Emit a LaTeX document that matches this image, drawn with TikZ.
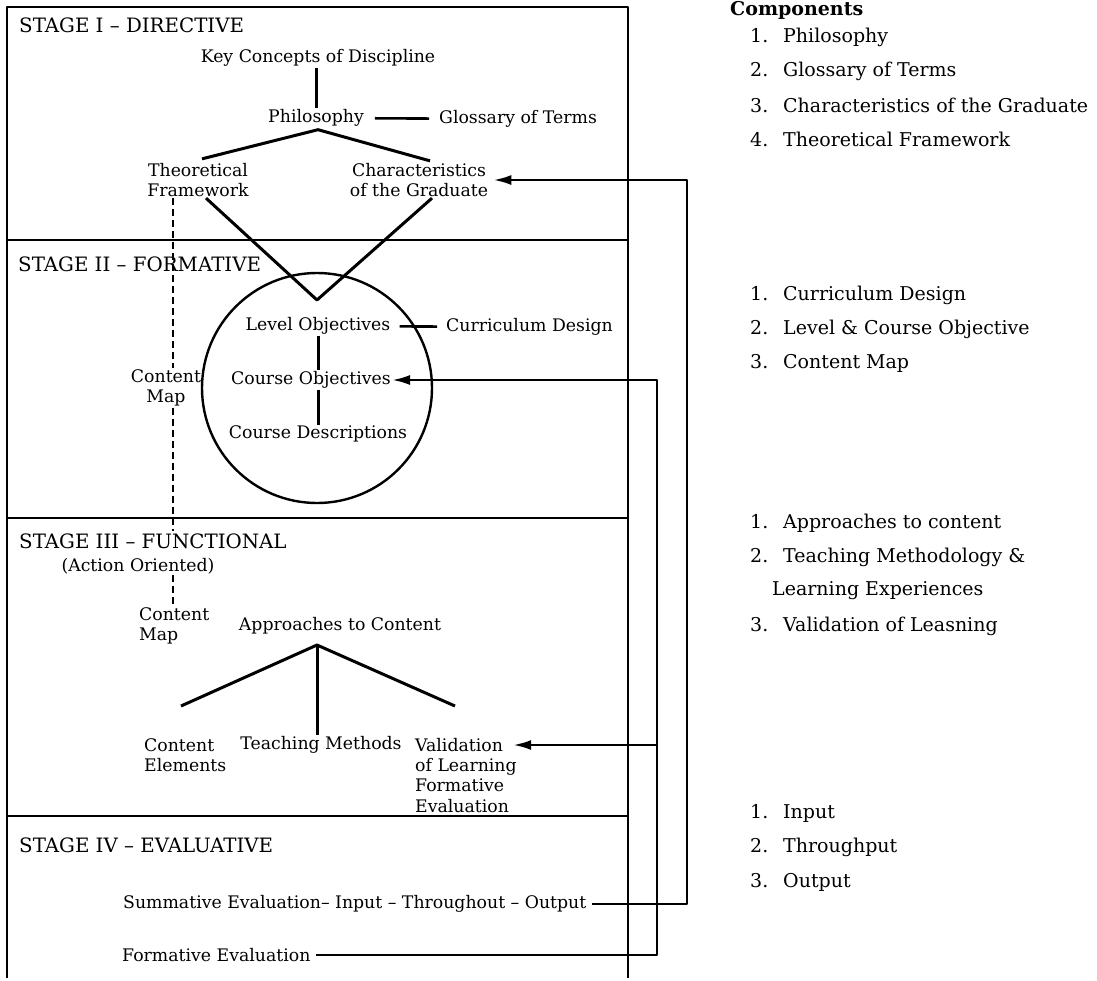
\documentclass[tikz,border=0pt]{standalone}
\usepackage{fontspec}
\setmainfont{DejaVu Serif}
\usetikzlibrary{arrows.meta,positioning,calc}

\begin{document}
\begin{tikzpicture}[x=1pt,y=-1pt,>={Latex[length=18pt,width=10pt]},line join=bevel,
  lbl/.style={font=\fontsize{17.3}{20.5}\selectfont,inner sep=1pt,align=center},
  lbll/.style={lbl,align=left,anchor=west},
  stagehd/.style={font=\fontsize{19.8}{22}\selectfont,anchor=west,inner sep=0pt},
  comp/.style={font=\fontsize{19}{22}\selectfont,anchor=west,inner sep=0pt},
  frameline/.style={line width=2.4pt},
  branch/.style={line width=3pt},
  link/.style={line width=2.6pt},
  cmap/.style={line width=2pt,dash pattern=on 7pt off 4pt}]
\useasboundingbox (0,0) rectangle (1097,980);

% stage frame
\draw[frameline] (7,978) -- (7,7) -- (628,7) -- (628,978);
\foreach \y in {240,518,816} \draw[frameline] (7,\y) -- (628,\y);
\coordinate (rmid) at (657,0);
\coordinate (rout) at (687,0);

% stage I
\node[stagehd] (st1) at (19,25) {STAGE I -- DIRECTIVE};
\node[lbl] (key) at (318,58) {Key Concepts of Discipline};
\node[lbl] (phil) at (316,118) {Philosophy};
\node[lbl,anchor=west] (gloss) at (438,119) {Glossary of Terms};
\node[lbl] (theo) at (198,180) {Theoretical\\Framework};
\node[lbl] (chara) at (419,180) {Characteristics\\of the Graduate};
\draw[branch] (key.south -| phil) -- (phil);
\draw[link,shorten <=10pt,shorten >=9pt] (phil) -- (gloss);
\draw[branch] ($(theo.north)+(4,-3)$) -- ($(phil.south)+(2,2)$) -- ($(chara.north)+(11,-1)$);

% stage II
\node[stagehd] (st2) at (18,264) {STAGE II -- FORMATIVE};
\coordinate (vtip) at (317,300);
\draw[branch] ($(theo.south)+(8,0)$) -- (vtip) -- ($(chara.south)+(13,0)$);
\node[draw,circle,minimum size=230pt,line width=2.4pt] (cyc) at (317,388) {};
\node[lbl] (lvl) at (318,326) {Level Objectives};
\node[lbl,anchor=west] (cd) at (445,327) {Curriculum Design};
\node[lbl] (cobj) at (311,380) {Course Objectives};
\node[lbl] (cdesc) at (318,434) {Course Descriptions};
\draw[link,shorten <=8pt,shorten >=8pt] (lvl) -- (cd);
\draw[branch] (lvl.south -| key) -- (cobj.north -| key);
\draw[branch] (cobj.south -| key) -- (cdesc.north -| key);
\node[lbl] (cm2) at (166,388) {Content\\Map};
\draw[cmap] ($(theo.south -| cm2)+(7,0)$) -- ($(cm2.north)+(7,0)$);

% stage III
\node[stagehd] (st3) at (19,541) {STAGE III -- FUNCTIONAL};
\node[lbl] (act) at (138,566) {(Action Oriented)};
\draw[cmap] ($(cm2.south)+(7,0)$) -- ($(cm2.south |- st3.north)+(7,-2)$);
\node[lbll] (cm3) at (138,626) {Content\\Map};
\draw[cmap] ($(act.south -| cm2)+(7,0)$) -- ($(cm3.north -| cm2)+(7,0)$);
\node[lbl] (app) at (340,626) {Approaches to Content};
\node[lbll] (cel) at (143,755) {Content\\Elements};
\node[lbl] (tm) at (321,745) {Teaching Methods};
\node[lbl,anchor=west] (val) at (414,745) {Validation};
\node[lbll,anchor=north west] (valx) at ($(val.south west)+(0,4)$) {of Learning\\Formative\\Evaluation};
\coordinate (apex) at (317,645);
\draw[branch] (181,706) -- (apex) -- (455,706);
\draw[branch] (apex) -- (tm.north -| apex);

% stage IV
\node[stagehd] (st4) at (19,845) {STAGE IV -- EVALUATIVE};
\node[lbl,anchor=west] (sum) at (122,904) {Summative Evaluation-- Input -- Throughout -- Output};
\node[lbl,anchor=west] (form) at (121,955) {Formative Evaluation};

% feedback loops
\draw[link,->,shorten <=4pt] (sum.east) -| (rout |- chara.east) -- ($(chara.east)+(4,0)$);
\draw[link,->,shorten <=4pt] (form.east) -| (rmid |- cobj.east) -- (cobj.east);
\draw[link,->,shorten >=9pt] (rmid |- val) -- (val.east);

% components
\node[comp,font=\bfseries\fontsize{19}{22}\selectfont] (comphd) at (730,10) {Components};
\foreach \n/\t/\y in {1/Philosophy/37,2/Glossary of Terms/71,3/Characteristics of the Graduate/105,4/Theoretical Framework/139,
  1/Curriculum Design/295,2/Level \& Course Objective/329,3/Content Map/363,
  1/Approaches to content/523,2/Teaching Methodology \&/557,3/Validation of Leasning/626,
  1/Input/813,2/Throughput/847,3/Output/882}
  \node[comp] (item\y) at (750,\y) {\makebox[33pt][l]{\n.}\t};
\node[comp] (item591) at (772,591) {Learning Experiences};
\end{tikzpicture}
\end{document}
